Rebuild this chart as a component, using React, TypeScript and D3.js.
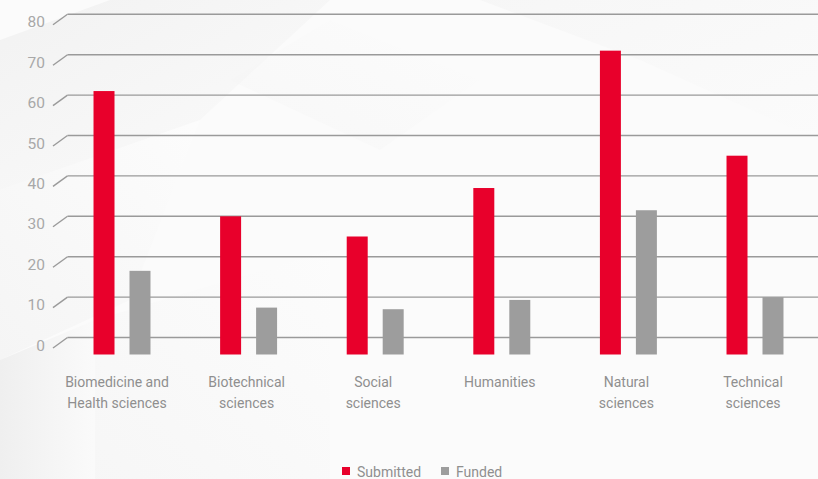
import React from "react";
import * as d3 from "d3";

const categories = [
  "Biomedicine and\nHealth sciences",
  "Biotechnical\nsciences",
  "Social\nsciences",
  "Humanities",
  "Natural\nsciences",
  "Technical\nsciences",
];
const series = ["Submitted", "Funded"];
const submitted = [61, 30, 25, 37, 71, 45];
const funded = [16.5, 7.4, 7, 9.3, 31.5, 10];
const yTicks = [0, 10, 20, 30, 40, 50, 60, 70, 80];
const colors = ["#e8002b", "#9d9d9d"];

const W = 818;
const H = 479;
// depth of the pseudo-3D floor: back wall vs front edge
const DEPTH_X = 14.5;
const DEPTH_Y = 10.5;
const BAR_DROP = 17;

export default function App() {
  const x = d3
    .scaleBand<string>()
    .domain(categories)
    .range([58.7, 818.3])
    .paddingInner(0.55)
    .paddingOuter(0.275);
  const xInner = d3
    .scaleBand<string>()
    .domain(series)
    .range([0, x.bandwidth()])
    .paddingInner(0.4167)
    .paddingOuter(0);
  const y = d3.scaleLinear().domain([0, 80]).range([337.5, 14.3]);
  const values = [submitted, funded];
  const font = "Roboto, 'Open Sans', sans-serif";
  const backX = 67.5;

  return (
    <svg
      width={W}
      height={H}
      style={{ position: "absolute", left: 0, top: 0, display: "block" }}
    >
      <defs>
        <linearGradient id="bgA" x1="0" y1="0" x2="1" y2="1">
          <stop offset="0" stopColor="#eeeeee" />
          <stop offset="1" stopColor="#fbfbfb" />
        </linearGradient>
        <linearGradient id="bgB" x1="0" y1="0" x2="1" y2="0">
          <stop offset="0" stopColor="#ececec" />
          <stop offset="1" stopColor="#fafafa" />
        </linearGradient>
        <linearGradient id="bgC" x1="0" y1="1" x2="1" y2="0">
          <stop offset="0" stopColor="#f1f1f1" />
          <stop offset="1" stopColor="#fdfdfd" />
        </linearGradient>
      </defs>
      <rect width={W} height={H} fill="#fbfbfb" />
      {/* faint hexagonal backdrop */}
      <polygon points="0,40 110,0 330,0 200,120 0,190" fill="url(#bgA)" opacity={0.7} />
      <polygon points="0,190 200,120 130,300 0,360" fill="url(#bgC)" opacity={0.6} />
      <polygon points="0,360 95,320 95,479 0,479" fill="url(#bgB)" opacity={0.8} />
      <polygon points="95,320 330,250 330,479 95,479" fill="url(#bgC)" opacity={0.45} />
      <polygon points="480,0 818,0 818,140 640,60" fill="url(#bgA)" opacity={0.35} />
      <polygon points="230,80 330,20 480,80 380,150" fill="url(#bgC)" opacity={0.35} />

      {/* gridlines with slanted floor ticks */}
      {yTicks.map((t) => {
        const yy = y(t);
        return (
          <g key={t}>
            <line x1={backX} x2={W} y1={yy} y2={yy} stroke="#9a9a9a" strokeWidth={1.4} />
            <line
              x1={backX - DEPTH_X}
              y1={yy + DEPTH_Y}
              x2={backX}
              y2={yy}
              stroke="#9a9a9a"
              strokeWidth={1.4}
            />
            <text
              x={45}
              y={yy + DEPTH_Y - 1.5}
              textAnchor="end"
              dominantBaseline="middle"
              fontFamily={font}
              fontSize={15.5}
              fill="#a8a8a8"
            >
              {t}
            </text>
          </g>
        );
      })}

      {/* bars */}
      {categories.map((c, i) => (
        <g key={c} transform={`translate(${x(c)},0)`}>
          {series.map((s, j) => {
            const v = values[j][i];
            const top = y(v);
            const bottom = y(0) + BAR_DROP;
            return (
              <rect
                key={s}
                x={xInner(s)}
                y={top}
                width={xInner.bandwidth()}
                height={bottom - top}
                fill={colors[j]}
              />
            );
          })}
        </g>
      ))}

      {/* category labels */}
      {categories.map((c, i) => {
        const cx = (x(c) as number) + x.bandwidth() / 2 - (i === 0 ? 5 : 2);
        return (
          <text
            key={c}
            x={cx}
            textAnchor="middle"
            fontFamily={font}
            fontSize={14}
            fill="#8f8f8f"
          >
            {c.split("\n").map((line, k) => (
              <tspan key={k} x={cx} y={386.5 + k * 21.5}>
                {line}
              </tspan>
            ))}
          </text>
        );
      })}

      {/* legend */}
      {series.map((s, j) => {
        const lx = [342, 441][j];
        return (
          <g key={s}>
            <rect x={lx} y={467} width={8} height={8} fill={colors[j]} />
            <text
              x={lx + 15}
              y={473.5}
              dominantBaseline="middle"
              fontFamily={font}
              fontSize={14}
              fill="#8f8f8f"
            >
              {s}
            </text>
          </g>
        );
      })}
    </svg>
  );
}
